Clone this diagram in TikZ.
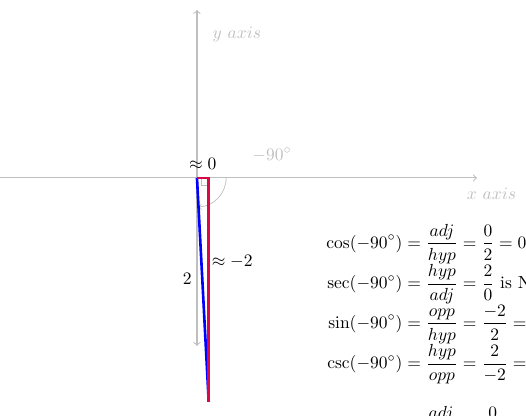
\documentclass[tikz,border=0pt]{standalone}
\usepackage{amsmath}
\usepackage{xcolor}
\usetikzlibrary{positioning}

\definecolor{hypblue}{RGB}{0,0,255}
\definecolor{legred}{RGB}{215,10,70}

\tikzset{
  axis/.style={gray!50, line width=0.6pt, <->},
  axislabel/.style={gray!50},
  side/.style={line width=1.5pt},
}

\begin{document}
\begin{tikzpicture}[x=2.25cm,y=2.25cm]
    % frame of the picture
    \useasboundingbox (-1.759,-2.125) rectangle (2.938,1.589);
    \clip (-1.759,-2.125) rectangle (2.938,1.589);
    % axes
    \coordinate (O) at (0,0);
    \coordinate (xmin) at (-2.5,0);
    \coordinate (xmax) at (2.5,0);
    \coordinate (ymin) at (0,-1.5);
    \coordinate (ymax) at (0,1.5);
    \draw[axis] (xmin) -- (xmax);
    \draw[axis] (ymin) -- (ymax);
    \node[axislabel] (xlab) at (2.63,-0.14) {$x\ axis$};
    \node[axislabel] (ylab) at (0.357,1.286) {$y\ axis$};
    % angle and right angle mark
    \coordinate (P) at (-87:2);
    \coordinate (C) at (P |- O);
    \draw[gray!50, ->] (0.26,0) arc (0:-87:0.26);
    \node[axislabel] (ang) at (0.67,0.205) {$-90^\circ$};
    \draw[gray!50] (C) rectangle ++(-0.07,-0.07);
    % the triangle
    \draw[side, hypblue] (O) -- node[pos=0.45, left, black, xshift=-2pt] (hyplab) {$2$} (P);
    \draw[side, legred] (O) -- node[above, black, yshift=1pt] (adjlab) {$\approx 0$} (C)
        -- node[pos=0.375, right, black, inner sep=1pt] (opplab) {$\approx -2$} (P);
    % the ratios
    \node[anchor=north west, inner sep=0pt] (ratios) at (1.152,-0.41) {$\begin{aligned}
        \cos(-90^\circ) &= \frac{adj}{hyp} = \frac{0}{2} = 0\\[-3.4pt]
        \sec(-90^\circ) &= \frac{hyp}{adj} = \frac{2}{0} \text{ is NaN}\\[-3.4pt]
        \sin(-90^\circ) &= \frac{opp}{hyp} = \frac{-2}{2} = -1\\[-3.4pt]
        \csc(-90^\circ) &= \frac{hyp}{opp} = \frac{2}{-2} = -1\\[9pt]
        \cot(-90^\circ) &= \frac{adj}{opp} = \frac{0}{-2} = 0
    \end{aligned}$};
\end{tikzpicture}
\end{document}
